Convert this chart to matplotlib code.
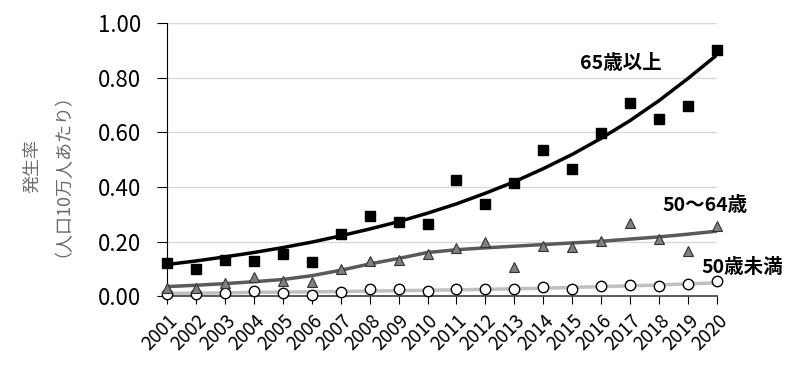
import matplotlib
matplotlib.use("Agg")
import matplotlib.pyplot as plt

plt.rcParams["font.family"] = ["Noto Sans CJK JP", "DejaVu Sans"]

years = list(range(2001, 2021))

# 65歳以上
rate_65 = [0.120, 0.100, 0.134, 0.130, 0.154, 0.126, 0.227, 0.293, 0.272, 0.264,
           0.425, 0.336, 0.415, 0.535, 0.465, 0.596, 0.706, 0.650, 0.696, 0.900]
trend_65 = [0.116, 0.129, 0.144, 0.160, 0.178, 0.198, 0.221, 0.246, 0.273, 0.304,
            0.338, 0.377, 0.419, 0.467, 0.519, 0.578, 0.643, 0.716, 0.797, 0.883]

# 50～64歳
rate_50_64 = [0.030, 0.030, 0.049, 0.071, 0.055, 0.051, 0.098, 0.130, 0.134, 0.156,
              0.178, 0.199, 0.107, 0.184, 0.181, 0.203, 0.269, 0.208, 0.166, 0.256]
trend_50_64 = [0.035, 0.040, 0.046, 0.053, 0.061, 0.075, 0.095, 0.118, 0.138, 0.160,
               0.170, 0.177, 0.183, 0.189, 0.195, 0.201, 0.209, 0.217, 0.227, 0.238]

# 50歳未満
rate_u50 = [0.007, 0.007, 0.010, 0.020, 0.010, 0.005, 0.015, 0.026, 0.027, 0.020,
            0.025, 0.025, 0.025, 0.032, 0.027, 0.038, 0.040, 0.038, 0.044, 0.055]
trend_u50 = [0.010, 0.011, 0.012, 0.014, 0.015, 0.016, 0.017, 0.019, 0.020, 0.022,
             0.023, 0.025, 0.027, 0.029, 0.032, 0.035, 0.038, 0.041, 0.045, 0.049]

y_ticks = [0.0, 0.2, 0.4, 0.6, 0.8, 1.0]

fig = plt.figure(figsize=(8, 3.67), dpi=100)
ax = fig.add_axes([0.209, 0.193, 0.687, 0.744])

# trend lines
ax.plot(years, trend_u50, color="#c0c0c0", lw=2.5, zorder=2)
ax.plot(years, trend_50_64, color="#5a5a5a", lw=2.5, zorder=2)
ax.plot(years, trend_65, color="black", lw=2.5, zorder=2)

# points
ax.plot(years, rate_u50, "o", ms=7.5, mfc="white", mec="black", mew=1.0,
        clip_on=False, zorder=4)
ax.plot(years, rate_50_64, "^", ms=6.5, mfc="#808080", mec="#333333", mew=0.8,
        clip_on=False, zorder=4)
ax.plot(years, rate_65, "s", ms=7.5, mfc="black", mec="black",
        clip_on=False, zorder=4)

ax.set_xlim(2001, 2020)
ax.set_ylim(0, 1.0)
ax.set_yticks(y_ticks)
ax.set_yticklabels([f"{v:.2f}" for v in y_ticks], fontsize=16)
ax.set_xticks(years)
ax.set_xticklabels([str(y) for y in years], rotation=45, ha="right",
                   rotation_mode="anchor", fontsize=13.5)

ax.yaxis.grid(True, color="#d9d9d9", lw=1.0)
ax.set_axisbelow(True)
for s in ["top", "right"]:
    ax.spines[s].set_visible(False)
ax.spines["left"].set_color("black")
ax.spines["bottom"].set_color("#404040")
ax.spines["bottom"].set_linewidth(1.2)
ax.tick_params(axis="y", direction="out", length=7, pad=12, colors="black")
ax.tick_params(axis="x", direction="out", length=6, pad=4)

ax.set_ylabel("発生率\n（人口10万人あたり）", color="#6a6a6a", fontsize=13,
              linespacing=1.25)
ax.yaxis.set_label_coords(-0.19, 0.476)

ax.text(2015.27, 0.853, "65歳以上", fontsize=14, fontweight="bold", va="center")
ax.text(2018.13, 0.333, "50～64歳", fontsize=14, fontweight="bold", va="center")
ax.text(2019.48, 0.106, "50歳未満", fontsize=14, fontweight="bold", va="center")

fig.savefig("out.png", dpi=100)
